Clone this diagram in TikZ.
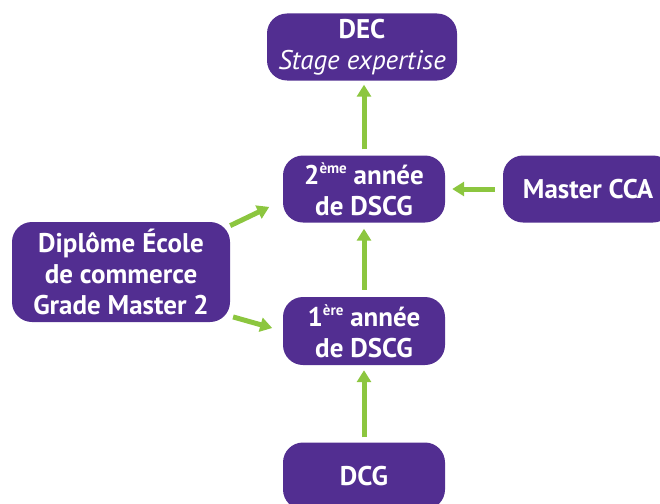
\documentclass[tikz,border=0pt]{standalone}
\usepackage{fontspec}
\setmainfont{PT Sans}
\usetikzlibrary{arrows.meta}
\definecolor{cursus}{HTML}{522E91}
\definecolor{vert}{HTML}{8CC63F}
\newcommand{\expo}[1]{\raisebox{0.42em}{\fontsize{15}{15}\selectfont #1}}

\begin{document}
\begin{tikzpicture}[x=1pt, y=-1pt,
  box/.style={fill=cursus, text=white, rounded corners=20pt, align=center,
    inner sep=0pt, font=\fontsize{27}{31}\selectfont\bfseries},
  flow/.style={draw=vert, line width=5pt, -{Triangle[length=12pt,width=14pt]}}]
  \useasboundingbox (0,0) rectangle (660,503);
  \node[box, minimum width=190pt, minimum height=67pt] (dec) at (362,47)
    {DEC\\{\mdseries\itshape Stage expertise}};
  \node[box, minimum width=162pt, minimum height=67pt] (dscg2) at (364,189)
    {2\expo{ème} année\\de DSCG};
  \node[box, minimum width=170pt, minimum height=67pt] (cca) at (588,189) {Master CCA};
  \node[box, minimum width=218pt, minimum height=100pt] (ecole) at (121,272)
    {Diplôme École\\de commerce\\Grade Master 2};
  \node[box, minimum width=162pt, minimum height=68pt] (dscg1) at (364,331)
    {1\expo{ère} année\\de DSCG};
  \node[box, minimum width=162pt, minimum height=67pt] (dcg) at (364,476) {DCG};
  % arrows
  \draw[flow, shorten <=6pt, shorten >=4pt] (dscg2.north) -- (dscg2.north |- dec.south);
  \draw[flow, shorten <=7pt, shorten >=6pt] (dscg1) -- (dscg2);
  \draw[flow, shorten <=5pt, shorten >=5pt] (dcg) -- (dscg1);
  \draw[flow, shorten <=8pt, shorten >=7pt] (cca) -- (dscg2);
  \draw[flow, shorten >=15pt] (ecole.23) -- (dscg2.188);
  \draw[flow, shorten <=3pt, shorten >=11pt] (ecole.-22) -- (dscg1.west);
\end{tikzpicture}
\end{document}
